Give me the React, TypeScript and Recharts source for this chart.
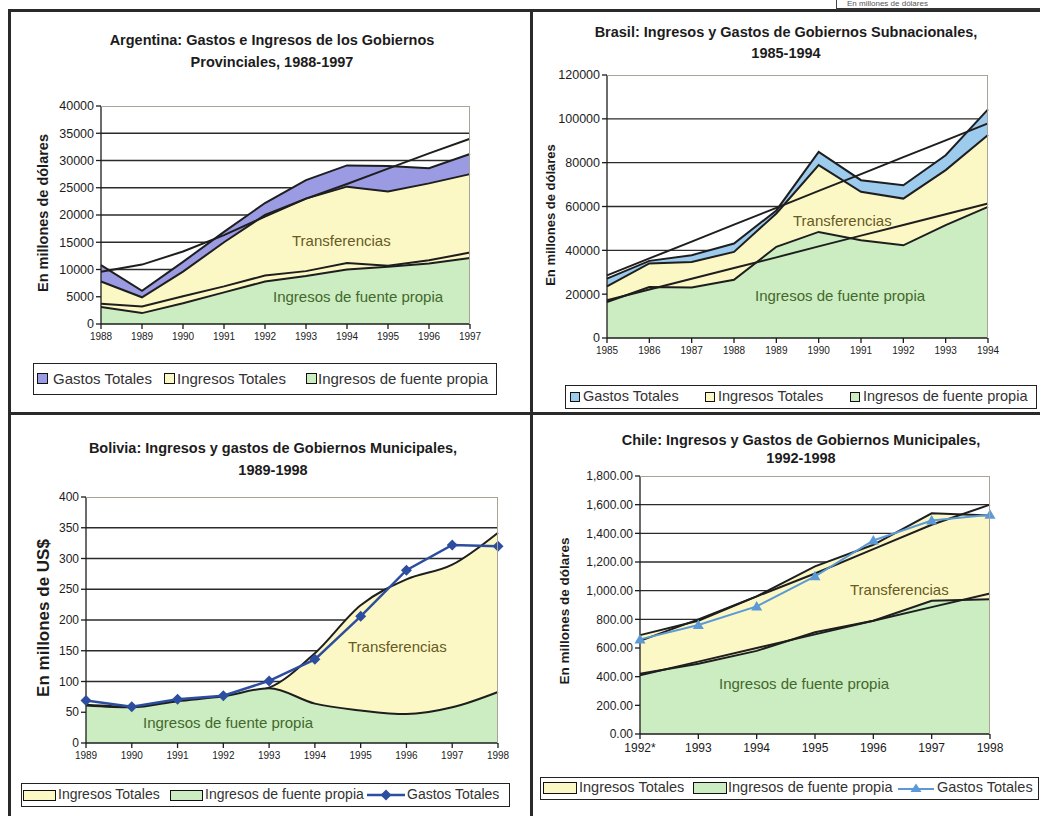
"use client";

import React from "react";
import { ComposedChart, Area, Line, XAxis, YAxis, CartesianGrid } from "recharts";

// ---- Argentina: gobiernos provinciales, 1988-1997 (millones de dólares)
const argYears = [1988, 1989, 1990, 1991, 1992, 1993, 1994, 1995, 1996, 1997];
const argYTicks = [0, 5000, 10000, 15000, 20000, 25000, 30000, 35000, 40000];
const argGastos = [10800, 6100, 11400, 16900, 22200, 26400, 29100, 29000, 28600, 31200];
const argIngresosTot = [7800, 4900, 9600, 15000, 20000, 23000, 25200, 24300, 25800, 27500];
const argPropia = [3100, 2000, 3800, 5800, 7800, 8800, 10000, 10500, 11100, 12100];
const argTendGastos = [9600, 10900, 13300, 16300, 19700, 23000, 25700, 28500, 31300, 34000];
const argTendPropia = [3700, 3200, 5100, 6900, 8900, 9700, 11200, 10700, 11700, 13100];

// ---- Brasil: gobiernos subnacionales, 1985-1994
const braYears = [1985, 1986, 1987, 1988, 1989, 1990, 1991, 1992, 1993, 1994];
const braYTicks = [0, 20000, 40000, 60000, 80000, 100000, 120000];
const braGastos = [27100, 35200, 37800, 43100, 58200, 84900, 72000, 69700, 83400, 104300];
const braIngresosTot = [23500, 34000, 34700, 39300, 56800, 78900, 66700, 63600, 76600, 92600];
const braPropia = [16400, 23300, 23000, 26600, 41600, 48400, 44600, 42300, 51500, 59800];
const braTendGastos = [28600, 36300, 44000, 51700, 59400, 67100, 74800, 82500, 90200, 97900];
const braTendPropia = [17200, 22100, 27000, 31900, 36800, 41800, 46700, 51600, 56500, 61400];

// ---- Bolivia: gobiernos municipales, 1989-1998 (millones de US$)
const bolYears = [1989, 1990, 1991, 1992, 1993, 1994, 1995, 1996, 1997, 1998];
const bolYTicks = [0, 50, 100, 150, 200, 250, 300, 350, 400];
const bolIngresosTot = [62, 59, 68, 76, 90, 146, 224, 266, 290, 342];
const bolPropia = [61, 58, 68, 76, 89, 64, 53, 47, 58, 83];
const bolGastos = [69, 59, 71, 77, 101, 136, 206, 281, 322, 320];

// ---- Chile: gobiernos municipales, 1992-1998
const chiYears = [1992, 1993, 1994, 1995, 1996, 1997, 1998];
const chiYearLabels = ["1992*", "1993", "1994", "1995", "1996", "1997", "1998"];
const chiYTicks = [0, 200, 400, 600, 800, 1000, 1200, 1400, 1600, 1800];
const chiIngresosTot = [690, 790, 960, 1170, 1320, 1540, 1525];
const chiPropia = [420, 490, 580, 710, 790, 930, 940];
const chiGastos = [660, 760, 890, 1100, 1350, 1490, 1530];
const chiTendTot = [650, 800, 960, 1120, 1290, 1460, 1600];
const chiTendPropia = [410, 505, 600, 695, 790, 885, 980];

const FONT = '"Liberation Sans", Arial, sans-serif';
const INK = "#1c1c1c";
const LINE = "#1e1e1e";
const YELLOW = "#fcf8c6";
const GREEN = "#cbedc1";
const PERIWINKLE = "#9b9be4";
const SKY = "#9ccbee";
const NAVY = "#2d4e9e";
const LIGHTBLUE = "#5b9ad6";
const OLIVE = "#675a24";
const MOSS = "#43682c";

type Rect = { x: number; y: number; w: number; h: number };

function toRows(years: number[], cols: Record<string, number[]>) {
  return years.map((year, i) => {
    const r: Record<string, number> = { year };
    for (const k in cols) r[k] = cols[k][i];
    return r;
  });
}

const argRows = toRows(argYears, {
  gastos: argGastos, tot: argIngresosTot, propia: argPropia, tendG: argTendGastos, tendP: argTendPropia,
});
const braRows = toRows(braYears, {
  gastos: braGastos, tot: braIngresosTot, propia: braPropia, tendG: braTendGastos, tendP: braTendPropia,
});
const bolRows = toRows(bolYears, { tot: bolIngresosTot, propia: bolPropia, gastos: bolGastos });
const chiRows = toRows(chiYears, {
  tot: chiIngresosTot, propia: chiPropia, gastos: chiGastos, tendT: chiTendTot, tendP: chiTendPropia,
});

function Panel(props: {
  box: Rect;
  plot: Rect;
  yw: number;
  xh: number;
  data: any[];
  years: number[];
  yTicks: number[];
  yFmt: (v: number) => string;
  xFmt: (v: number) => string;
  yFont: number;
  xFont: number;
  children: React.ReactNode;
}) {
  const { box, plot, yw, xh, data, years, yTicks, yFmt, xFmt, yFont, xFont } = props;
  const margin = {
    top: plot.y - box.y,
    left: plot.x - box.x - yw,
    right: box.x + box.w - plot.x - plot.w,
    bottom: box.y + box.h - plot.y - plot.h - xh,
  };
  return (
    <div style={{ position: "absolute", left: box.x, top: box.y, width: box.w, height: box.h }}>
      <ComposedChart width={box.w} height={box.h} data={data} margin={margin}>
        <CartesianGrid
          vertical={false}
          stroke="#2b2b2b"
          strokeWidth={1.3}
          horizontalValues={yTicks.slice(1, -1)}
        />
        <XAxis
          type="number"
          dataKey="year"
          domain={[years[0], years[years.length - 1]]}
          ticks={years}
          interval={0}
          height={xh}
          tickSize={5}
          stroke={INK}
          strokeWidth={1.3}
          tick={(p: any) => (
            <text x={p.x} y={p.y + 2} dy="0.71em" textAnchor="middle" fontSize={xFont} fontFamily={FONT} fill={INK}>
              {xFmt(p.payload.value)}
            </text>
          )}
        />
        <YAxis
          type="number"
          domain={[yTicks[0], yTicks[yTicks.length - 1]]}
          ticks={yTicks}
          interval={0}
          width={yw}
          tickSize={5}
          stroke={INK}
          strokeWidth={1.3}
          tick={(p: any) => (
            <text x={p.x} y={p.y} dy="0.35em" textAnchor="end" fontSize={yFont} fontFamily={FONT} fill={INK}>
              {yFmt(p.payload.value)}
            </text>
          )}
        />
        {props.children}
      </ComposedChart>
      <div
        style={{
          position: "absolute",
          left: plot.x - box.x,
          top: plot.y - box.y,
          width: plot.w,
          height: plot.h,
          borderTop: "1px solid #a9a398",
          borderRight: "1px solid #a9a398",
          boxSizing: "border-box",
          pointerEvents: "none",
        }}
      />
    </div>
  );
}

function Title({ cx, y1, y2, size, lines }: { cx: number; y1: number; y2: number; size: number; lines: string[] }) {
  const lh = y2 - y1;
  return (
    <div
      style={{
        position: "absolute",
        left: cx - 260,
        width: 520,
        top: y1 - lh / 2,
        lineHeight: `${lh}px`,
        fontSize: size,
        fontWeight: "bold",
        textAlign: "center",
        color: INK,
        whiteSpace: "nowrap",
      }}
    >
      {lines.map((l) => (
        <div key={l}>{l}</div>
      ))}
    </div>
  );
}

function YLabel({ cx, cy, size, text, bold = true }: { cx: number; cy: number; size: number; text: string; bold?: boolean }) {
  return (
    <div
      style={{
        position: "absolute",
        left: cx,
        top: cy,
        transform: "translate(-50%, -50%) rotate(-90deg)",
        fontSize: size,
        fontWeight: bold ? "bold" : "normal",
        color: INK,
        whiteSpace: "nowrap",
        lineHeight: 1,
      }}
    >
      {text}
    </div>
  );
}

function Note({ x, cy, color, text, size = 15 }: { x: number; cy: number; color: string; text: string; size?: number }) {
  return (
    <div style={{ position: "absolute", left: x, top: cy - size / 2, fontSize: size, lineHeight: 1, color, whiteSpace: "nowrap" }}>
      {text}
    </div>
  );
}

function Box({ r }: { r: Rect }) {
  return (
    <div
      style={{
        position: "absolute",
        left: r.x,
        top: r.y,
        width: r.w,
        height: r.h,
        border: "1.5px solid #222",
        boxSizing: "border-box",
        background: "#fff",
      }}
    />
  );
}

function Swatch({ r, fill }: { r: Rect; fill: string }) {
  return (
    <div
      style={{
        position: "absolute",
        left: r.x,
        top: r.y,
        width: r.w,
        height: r.h,
        background: fill,
        border: "1.5px solid #111",
        boxSizing: "border-box",
      }}
    />
  );
}

function LegText({ x, cy, text, size = 14.5 }: { x: number; cy: number; text: string; size?: number }) {
  return (
    <div style={{ position: "absolute", left: x, top: cy - size / 2 - 1, fontSize: size, lineHeight: 1, color: "#333", whiteSpace: "nowrap" }}>
      {text}
    </div>
  );
}

function Rule({ x, y, w, h }: { x: number; y: number; w: number; h: number }) {
  return <div style={{ position: "absolute", left: x, top: y, width: w, height: h, background: "#2a2a2a" }} />;
}

const diamond = (p: any) => (
  <path
    key={`d${p.index}`}
    d={`M${p.cx},${p.cy - 5.5}L${p.cx + 5.5},${p.cy}L${p.cx},${p.cy + 5.5}L${p.cx - 5.5},${p.cy}Z`}
    fill={NAVY}
  />
);

const triangle = (p: any) => (
  <path
    key={`t${p.index}`}
    d={`M${p.cx},${p.cy - 5.5}L${p.cx + 5.5},${p.cy + 4}L${p.cx - 5.5},${p.cy + 4}Z`}
    fill={LIGHTBLUE}
  />
);

const plain = (v: number) => String(v);
const chiFmt = (v: number) => v.toLocaleString("en-US", { minimumFractionDigits: 2, maximumFractionDigits: 2 });
const chiX = (v: number) => chiYearLabels[chiYears.indexOf(v)] ?? String(v);

const areaProps = { type: "linear" as const, stroke: LINE, strokeWidth: 2, fillOpacity: 1, isAnimationActive: false, dot: false, activeDot: false };
const tendProps = { type: "linear" as const, stroke: LINE, strokeWidth: 2, isAnimationActive: false, dot: false, activeDot: false };

export default function App() {
  return (
    <div style={{ position: "absolute", left: 0, top: 0, width: 1040, height: 816, background: "#fff", fontFamily: FONT, overflow: "hidden" }}>
      {/* frame */}
      <Rule x={8} y={9} w={1032} h={3} />
      <Rule x={8} y={9} w={3} h={807} />
      <Rule x={530} y={9} w={3} h={807} />
      <Rule x={8} y={412} w={1032} h={3} />
      {/* edge of a neighbouring box, cut by the scan */}
      <div
        style={{
          position: "absolute",
          left: 836,
          top: 0,
          width: 210,
          height: 8,
          borderLeft: "1.5px solid #444",
          borderBottom: "2px solid #333",
          fontSize: 8,
          lineHeight: "8px",
          paddingLeft: 10,
          color: "#555",
          whiteSpace: "nowrap",
        }}
      >
        En millones de dólares
      </div>

      {/* Argentina */}
      <Title cx={272} y1={40} y2={62} size={14.5} lines={["Argentina: Gastos e Ingresos de los Gobiernos", "Provinciales, 1988-1997"]} />
      <YLabel cx={43} cy={213} size={14.5} text="En millones de dólares" />
      <Panel
        box={{ x: 0, y: 0, w: 520, h: 410 }}
        plot={{ x: 101, y: 106, w: 369, h: 218 }}
        yw={60}
        xh={30}
        data={argRows}
        years={argYears}
        yTicks={argYTicks}
        yFmt={plain}
        xFmt={plain}
        yFont={12.5}
        xFont={10}
      >
        <Area dataKey="gastos" fill={PERIWINKLE} {...areaProps} />
        <Area dataKey="tot" fill={YELLOW} {...areaProps} />
        <Area dataKey="propia" fill={GREEN} {...areaProps} />
        <Line dataKey="tendG" {...tendProps} />
        <Line dataKey="tendP" {...tendProps} />
      </Panel>
      <Note x={292} cy={240} color={OLIVE} text="Transferencias" />
      <Note x={273} cy={296} color={MOSS} text="Ingresos de fuente propia" />
      <Box r={{ x: 33, y: 363, w: 464, h: 32 }} />
      <Swatch r={{ x: 37, y: 373, w: 11, h: 11 }} fill={PERIWINKLE} />
      <LegText x={53} cy={379} text="Gastos Totales" size={15} />
      <Swatch r={{ x: 164, y: 373, w: 11, h: 11 }} fill={YELLOW} />
      <LegText x={177} cy={379} text="Ingresos Totales" size={15} />
      <Swatch r={{ x: 306, y: 373, w: 11, h: 11 }} fill={GREEN} />
      <LegText x={318} cy={379} text="Ingresos de fuente propia" size={15} />

      {/* Brasil */}
      <Title cx={786} y1={32} y2={53} size={14.5} lines={["Brasil: Ingresos y Gastos de Gobiernos Subnacionales,", "1985-1994"]} />
      <YLabel cx={550} cy={215} size={13} text="En millones de dólares" />
      <Panel
        box={{ x: 520, y: 0, w: 520, h: 410 }}
        plot={{ x: 607, y: 75, w: 381, h: 263 }}
        yw={70}
        xh={30}
        data={braRows}
        years={braYears}
        yTicks={braYTicks}
        yFmt={plain}
        xFmt={plain}
        yFont={12.5}
        xFont={10}
      >
        <Area dataKey="gastos" fill={SKY} {...areaProps} />
        <Area dataKey="tot" fill={YELLOW} {...areaProps} />
        <Area dataKey="propia" fill={GREEN} {...areaProps} />
        <Line dataKey="tendG" {...tendProps} />
        <Line dataKey="tendP" {...tendProps} />
      </Panel>
      <Note x={793} cy={220} color={OLIVE} text="Transferencias" />
      <Note x={755} cy={295} color={MOSS} text="Ingresos de fuente propia" />
      <Box r={{ x: 565, y: 385, w: 472, h: 24 }} />
      <Swatch r={{ x: 570, y: 392, w: 10, h: 10 }} fill={SKY} />
      <LegText x={583} cy={397} text="Gastos Totales" size={14.5} />
      <Swatch r={{ x: 705, y: 392, w: 10, h: 10 }} fill={YELLOW} />
      <LegText x={718} cy={397} text="Ingresos Totales" size={14.5} />
      <Swatch r={{ x: 850, y: 392, w: 10, h: 10 }} fill={GREEN} />
      <LegText x={863} cy={397} text="Ingresos de fuente propia" size={14.5} />

      {/* Bolivia */}
      <Title cx={273} y1={448} y2={470} size={14.5} lines={["Bolivia: Ingresos y gastos de Gobiernos Municipales,", "1989-1998"]} />
      <YLabel cx={43} cy={618} size={17} text="En millones de US$" />
      <Panel
        box={{ x: 0, y: 410, w: 520, h: 406 }}
        plot={{ x: 86, y: 497, w: 412, h: 246 }}
        yw={50}
        xh={28}
        data={bolRows}
        years={bolYears}
        yTicks={bolYTicks}
        yFmt={plain}
        xFmt={plain}
        yFont={12}
        xFont={10}
      >
        <Area dataKey="tot" fill={YELLOW} {...areaProps} type="monotone" />
        <Area dataKey="propia" fill={GREEN} {...areaProps} type="monotone" />
        <Line
          dataKey="gastos"
          type="linear"
          stroke={NAVY}
          strokeWidth={2.5}
          dot={diamond}
          activeDot={false}
          isAnimationActive={false}
        />
      </Panel>
      <Note x={348} cy={646} color={OLIVE} text="Transferencias" />
      <Note x={143} cy={722} color={MOSS} text="Ingresos de fuente propia" />
      <Box r={{ x: 21, y: 783, w: 489, h: 24 }} />
      <Swatch r={{ x: 23, y: 790, w: 33, h: 11 }} fill={YELLOW} />
      <LegText x={58} cy={795} text="Ingresos Totales" size={14} />
      <Swatch r={{ x: 170, y: 790, w: 33, h: 11 }} fill={GREEN} />
      <LegText x={205} cy={795} text="Ingresos de fuente propia" size={14} />
      <svg style={{ position: "absolute", left: 366, top: 786 }} width={40} height={18}>
        <line x1={1} y1={9} x2={39} y2={9} stroke={NAVY} strokeWidth={2.5} />
        <path d="M20,3.5L25.5,9L20,14.5L14.5,9Z" fill={NAVY} />
      </svg>
      <LegText x={407} cy={795} text="Gastos Totales" size={14} />

      {/* Chile */}
      <Title cx={801} y1={440} y2={458} size={14.5} lines={["Chile: Ingresos y Gastos de Gobiernos Municipales,", "1992-1998"]} />
      <YLabel cx={565} cy={611} size={13.5} text="En millones de dólares" />
      <Panel
        box={{ x: 520, y: 410, w: 520, h: 406 }}
        plot={{ x: 640, y: 476, w: 350, h: 258 }}
        yw={70}
        xh={28}
        data={chiRows}
        years={chiYears}
        yTicks={chiYTicks}
        yFmt={chiFmt}
        xFmt={chiX}
        yFont={12}
        xFont={12}
      >
        <Area dataKey="tot" fill={YELLOW} {...areaProps} />
        <Area dataKey="propia" fill={GREEN} {...areaProps} />
        <Line dataKey="tendT" {...tendProps} />
        <Line dataKey="tendP" {...tendProps} />
        <Line
          dataKey="gastos"
          type="linear"
          stroke={LIGHTBLUE}
          strokeWidth={2}
          dot={triangle}
          activeDot={false}
          isAnimationActive={false}
        />
      </Panel>
      <Note x={850} cy={589} color={OLIVE} text="Transferencias" />
      <Note x={719} cy={683} color={MOSS} text="Ingresos de fuente propia" />
      <Box r={{ x: 540, y: 777, w: 499, h: 23 }} />
      <Swatch r={{ x: 543, y: 782, w: 34, h: 12 }} fill={YELLOW} />
      <LegText x={579} cy={788} text="Ingresos Totales" size={14.5} />
      <Swatch r={{ x: 693, y: 782, w: 34, h: 12 }} fill={GREEN} />
      <LegText x={728} cy={788} text="Ingresos de fuente propia" size={14.5} />
      <svg style={{ position: "absolute", left: 897, top: 779 }} width={38} height={18}>
        <line x1={1} y1={10} x2={37} y2={10} stroke={LIGHTBLUE} strokeWidth={2} />
        <path d="M19,4.5L24.5,13L13.5,13Z" fill={LIGHTBLUE} />
      </svg>
      <LegText x={937} cy={788} text="Gastos Totales" size={14.5} />
    </div>
  );
}
